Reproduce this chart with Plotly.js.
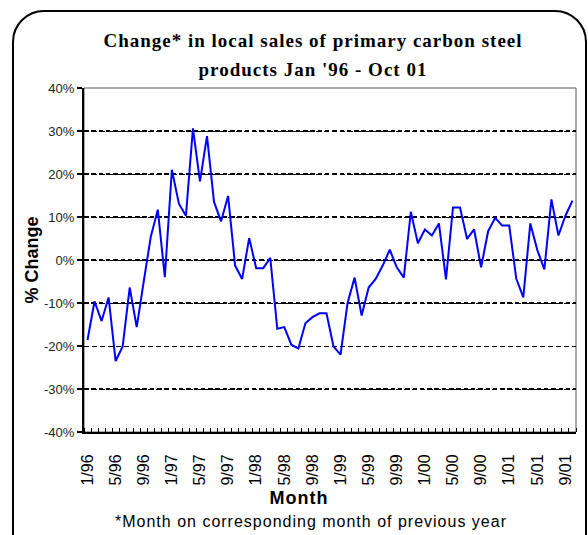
<!DOCTYPE html>
<html>
<head>
<meta charset="utf-8">
<script src="https://cdn.plot.ly/plotly-3.0.1.min.js"></script>
<style>
  html, body { margin: 0; padding: 0; background: #fff; }
  #wrap { position: relative; width: 588px; height: 535px; overflow: hidden; }
  #chart { width: 588px; height: 535px; }
  #frame { position: absolute; left: 12px; top: 10px; width: 571px; height: 560px;
           border: 2px solid #000; border-radius: 32px; pointer-events: none; }
  #chart .gtitle { letter-spacing: 1px; }
  #chart .annotation-text { letter-spacing: 1px; }
</style>
</head>
<body>
<div id="wrap">
  <div id="chart"></div>
  <div id="frame"></div>
</div>
<script>
// Months Jan '96 - Oct '01
const months = [
  'Jan-96','Feb-96','Mar-96','Apr-96','May-96','Jun-96','Jul-96','Aug-96','Sep-96','Oct-96','Nov-96','Dec-96',
  'Jan-97','Feb-97','Mar-97','Apr-97','May-97','Jun-97','Jul-97','Aug-97','Sep-97','Oct-97','Nov-97','Dec-97',
  'Jan-98','Feb-98','Mar-98','Apr-98','May-98','Jun-98','Jul-98','Aug-98','Sep-98','Oct-98','Nov-98','Dec-98',
  'Jan-99','Feb-99','Mar-99','Apr-99','May-99','Jun-99','Jul-99','Aug-99','Sep-99','Oct-99','Nov-99','Dec-99',
  'Jan-00','Feb-00','Mar-00','Apr-00','May-00','Jun-00','Jul-00','Aug-00','Sep-00','Oct-00','Nov-00','Dec-00',
  'Jan-01','Feb-01','Mar-01','Apr-01','May-01','Jun-01','Jul-01','Aug-01','Sep-01','Oct-01'
];
// % change on corresponding month of previous year
const pctChange = [
  -18.6, -9.6, -14.2, -8.7, -23.5, -20.1, -6.4, -15.6, -5.0, 5.4, 11.7, -4.0,
  21.0, 13.1, 10.3, 30.6, 18.3, 28.8, 13.5, 9.0, 14.9, -1.3, -4.4, 5.1,
  -1.9, -1.9, 0.5, -16.0, -15.6, -19.7, -20.6, -14.7, -13.3, -12.4, -12.4, -20.1,
  -22.0, -10.0, -4.1, -12.9, -6.4, -4.4, -1.3, 2.4, -1.7, -4.1, 11.2, 3.9,
  7.1, 5.7, 8.5, -4.5, 12.2, 12.2, 4.9, 7.1, -1.7, 6.7, 9.8, 8.0,
  8.0, -4.3, -8.7, 8.5, 2.3, -2.2, 14.1, 5.7, 10.3, 13.8
];
// x tick labels (every 4th month)
const xTickMonths = ['Jan-96','May-96','Sep-96','Jan-97','May-97','Sep-97','Jan-98','May-98','Sep-98',
  'Jan-99','May-99','Sep-99','Jan-00','May-00','Sep-00','Jan-01','May-01','Sep-01'];
const xTickLabels = ['1/96','5/96','9/96','1/97','5/97','9/97','1/98','5/98','9/98',
  '1/99','5/99','9/99','1/00','5/00','9/00','1/01','5/01','9/01'];
const yTickVals = [-40, -30, -20, -10, 0, 10, 20, 30, 40];
const yTickLabels = ['-40%', '-30%', '-20%', '-10%', '0%', '10%', '20%', '30%', '40%'];
const yThickGrid = [-30, -10, 0, 10, 20, 30, 40];

const xIdx = months.map((m, i) => i);
const xTickIdx = xTickMonths.map(m => months.indexOf(m));

const traces = [
  { x: xIdx, y: pctChange, type: 'scatter', mode: 'lines',
    line: { color: '#0000FF', width: 2 }, hoverinfo: 'x+y', showlegend: false },
  { x: [], y: [], xaxis: 'x', yaxis: 'y2', type: 'scatter', showlegend: false }
];

const serif = 'Liberation Serif, Times New Roman, serif';
const layout = {
  width: 588, height: 535,
  margin: { l: 84, r: 12, t: 88, b: 103 },
  paper_bgcolor: '#fff', plot_bgcolor: '#fff',
  font: { family: 'Liberation Sans, Arial, sans-serif', color: '#000' },
  title: {
    text: 'Change* in local sales of primary carbon steel',
    font: { family: serif, size: 19, color: '#000', weight: 'bold' },
    x: 313 / 588, xanchor: 'center', xref: 'container', yref: 'container', y: 1 - 40 / 535, yanchor: 'middle'
  },
  xaxis: {
    range: [-0.5, months.length - 0.5],
    tickmode: 'array', tickvals: xTickIdx, ticktext: xTickLabels,
    tickangle: -90, tickfont: { size: 16, color: '#000' },
    ticks: '', ticklabelstandoff: 14,
    minor: { ticks: 'inside', tick0: -0.5, dtick: 1, ticklen: 4, tickwidth: 1, tickcolor: '#000', showgrid: false },
    showline: true, linecolor: '#000', linewidth: 2,
    showgrid: false, zeroline: false
  },
  yaxis: {
    range: [-40, 40],
    tickmode: 'array', tickvals: yTickVals, ticktext: yTickLabels,
    tickfont: { size: 13, color: '#222' },
    ticks: 'outside', ticklen: 5, tickwidth: 2, tickcolor: '#000',
    showline: true, linecolor: '#000', linewidth: 2,
    showgrid: true, gridcolor: '#000', gridwidth: 1, griddash: '5px,3px',
    zeroline: false,
    title: { text: '% Change', font: { size: 18, weight: 'bold', color: '#000' }, standoff: 1 }
  },
  yaxis2: {
    overlaying: 'y', range: [-40, 40],
    tickmode: 'array', tickvals: yThickGrid,
    showticklabels: false, ticks: '',
    showgrid: true, gridcolor: '#000', gridwidth: 2.8, griddash: '4.5px,2.8px',
    showline: false, zeroline: false
  },
  shapes: [
    { type: 'rect', xref: 'paper', yref: 'paper', x0: 0, x1: 1, y0: 0, y1: 1,
      line: { color: '#555', width: 1 }, layer: 'below' }
  ],
  annotations: [
    { text: "products Jan '96 - Oct 01", xref: 'paper', yref: 'paper',
      x: (313 - 84) / 492, y: 1 + (88 - 70) / 344, xanchor: 'center', yanchor: 'middle', showarrow: false,
      font: { family: serif, size: 19, color: '#000', weight: 'bold' } },
    { text: '<b>Month</b>', xref: 'paper', yref: 'paper',
      x: (299 - 84) / 492, y: -(498 - 432) / 344, xanchor: 'center', yanchor: 'middle', showarrow: false,
      font: { size: 18, color: '#000' } },
    { text: '*Month on corresponding month of previous year', xref: 'paper', yref: 'paper',
      x: (311 - 84) / 492, y: -(521 - 432) / 344, xanchor: 'center', yanchor: 'middle', showarrow: false,
      font: { size: 16, color: '#000' } }
  ]
};

Plotly.newPlot('chart', traces, layout, { displayModeBar: false, staticPlot: true });
</script>
</body>
</html>
